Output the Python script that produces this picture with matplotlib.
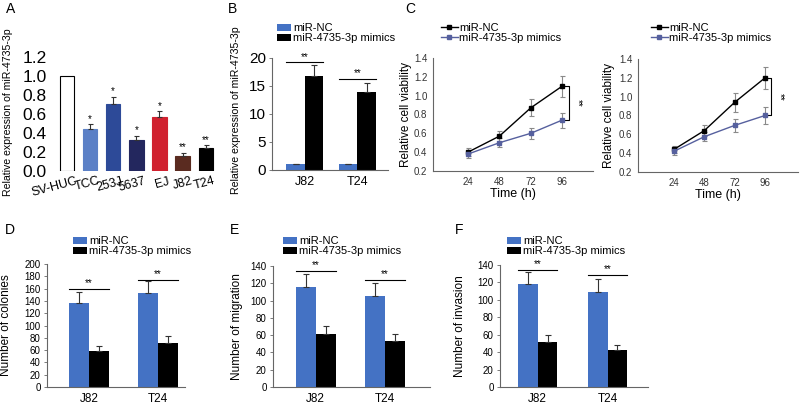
import matplotlib
matplotlib.use("Agg")
import matplotlib.pyplot as plt
from matplotlib.patches import Patch
from matplotlib.lines import Line2D
import numpy as np

plt.rcParams['font.family'] = ['Liberation Sans', 'DejaVu Sans']

# ---------------- data ----------------
a_cells = ["SV-HUC", "TCC", "253J", "5637", "EJ", "J82", "T24"]
a_vals = [1.0, 0.44, 0.70, 0.33, 0.57, 0.16, 0.24]
a_err = [0.0, 0.05, 0.08, 0.04, 0.06, 0.03, 0.03]
a_sig = ["", "*", "*", "*", "*", "**", "**"]
a_colors = ["white", "#5B80C6", "#2D4A98", "#23275E", "#D0212F", "#5A2B20", "#000000"]

groups = ["J82", "T24"]
series = ["miR-NC", "miR-4735-3p mimics"]

b_nc = [1.0, 1.0]
b_nc_err = [0.0, 0.0]
b_mim = [16.7, 14.0]
b_mim_err = [2.1, 1.6]
b_sig_y = [19.2, 16.3]

hours = [24, 48, 72, 96]
c1_nc = [0.40, 0.57, 0.87, 1.10]
c1_nc_err = [0.04, 0.06, 0.09, 0.11]
c1_mim = [0.38, 0.50, 0.60, 0.74]
c1_mim_err = [0.04, 0.05, 0.06, 0.08]
c2_nc = [0.44, 0.64, 0.94, 1.20]
c2_nc_err = [0.04, 0.06, 0.10, 0.12]
c2_mim = [0.42, 0.575, 0.695, 0.80]
c2_mim_err = [0.04, 0.05, 0.07, 0.09]

d_nc = [136, 153]
d_nc_err = [19, 20]
d_mim = [58, 72]
d_mim_err = [9, 11]
d_sig_y = [159, 174]

e_nc = [116, 105]
e_nc_err = [15, 15]
e_mim = [61, 53]
e_mim_err = [10, 8]
e_sig_y = [134, 124]

f_nc = [118, 109]
f_nc_err = [14, 14.5]
f_mim = [52, 42]
f_mim_err = [8, 6.5]
f_sig_y = [134, 128.5]

BLUE = "#4472C4"
W, H = 800, 404

fig = plt.figure(figsize=(8, 4.04), dpi=100)


def add_ax(l, t, r, b):
    return fig.add_axes([l / W, 1 - b / H, (r - l) / W, (b - t) / H])


def style_ax(ax):
    for s in ["top", "right"]:
        ax.spines[s].set_visible(False)
    for s in ["left", "bottom"]:
        ax.spines[s].set_color("#666666")
        ax.spines[s].set_linewidth(0.8)


def letter(x, y, s):
    fig.text(x / W, 1 - y / H, s, fontsize=10, ha="left", va="center")


def bar_legend(x, y):
    handles = [Patch(facecolor=BLUE, edgecolor="none"), Patch(facecolor="black", edgecolor="none")]
    fig.legend(handles, series, loc="upper left", bbox_to_anchor=(x / W, 1 - y / H),
               bbox_transform=fig.transFigure, frameon=False, borderpad=0, borderaxespad=0,
               handlelength=1.3, handleheight=0.6, handletextpad=0.15, labelspacing=0.0,
               fontsize=8)


def line_legend(x, y, mcol):
    handles = [Line2D([0], [0], color="black", marker="s", markersize=2.5, lw=1),
               Line2D([0], [0], color=mcol, marker="s", markersize=2.5, lw=1)]
    fig.legend(handles, series, loc="upper left", bbox_to_anchor=(x / W, 1 - y / H),
               bbox_transform=fig.transFigure, frameon=False, borderpad=0, borderaxespad=0,
               handlelength=1.5, handletextpad=0.15, labelspacing=0.0, fontsize=8)


def grouped_bars(ax, nc, nce, mim, mime, sig_y, w, ylim, yticks, tick_fs, ylabel, ylab_x, ylab_fs):
    x = np.arange(len(groups))
    ax.bar(x - w / 2, nc, w, color=BLUE, zorder=2)
    ax.bar(x + w / 2, mim, w, color="black", zorder=2)
    ax.errorbar(x - w / 2, nc, yerr=[np.zeros(len(nc)), nce], fmt="none", ecolor="#333333",
                elinewidth=0.8, capsize=2, capthick=0.8, zorder=3)
    ax.errorbar(x + w / 2, mim, yerr=[np.zeros(len(mim)), mime], fmt="none", ecolor="#333333",
                elinewidth=0.8, capsize=2, capthick=0.8, zorder=3)
    for xi, sy in zip(x, sig_y):
        ax.plot([xi - w, xi + w], [sy, sy], color="black", lw=0.8, clip_on=False)
        ax.annotate("**", (xi, sy), xytext=(0, 0.5), textcoords="offset points",
                    ha="center", va="bottom", fontsize=7)
    ax.set_ylim(*ylim)
    ax.set_yticks(yticks)
    ax.set_xticks(x)
    ax.set_xticklabels(groups, fontsize=8.5)
    ax.tick_params(axis="x", length=0, pad=4)
    ax.tick_params(axis="y", labelsize=tick_fs, length=2.5, width=0.6, color="#666666", pad=2)
    ax.set_ylabel(ylabel, fontsize=ylab_fs)
    ax.yaxis.set_label_coords(ylab_x, 0.5)
    style_ax(ax)


# ---------------- A ----------------
axA = add_ax(52, 57, 220, 171)
xa = np.arange(len(a_cells))
axA.bar(xa, a_vals, 0.62, color=a_colors, edgecolor=["black"] + a_colors[1:], linewidth=0.8)
axA.errorbar(xa[1:], a_vals[1:], yerr=[np.zeros(len(xa) - 1), a_err[1:]], fmt="none",
             ecolor="#333333", elinewidth=0.8, capsize=1.8, capthick=0.8)
for xi, v, e, s in zip(xa, a_vals, a_err, a_sig):
    if s:
        axA.text(xi, v + e + 0.005, s, ha="center", va="bottom", fontsize=7)
axA.set_xlim(-0.65, 6.62)
axA.set_ylim(0, 1.2)
axA.set_yticks(np.arange(0, 1.21, 0.2))
axA.set_yticklabels([f"{t:.1f}" for t in np.arange(0, 1.21, 0.2)])
axA.tick_params(axis="y", labelsize=12.5, length=0, pad=4)
axA.set_xticks(xa + 0.35)
axA.set_xticklabels(a_cells, rotation=15, ha="right", va="top", rotation_mode="anchor", fontsize=9)
axA.tick_params(axis="x", length=0, pad=3)
for sp in axA.spines.values():
    sp.set_visible(False)
axA.set_ylabel("Relative expression of miR-4735-3p", fontsize=7.6)
axA.yaxis.set_label_coords(-0.235, 0.52)
letter(6, 9, "A")

# ---------------- B ----------------
axB = add_ax(272, 58, 388, 170)
grouped_bars(axB, b_nc, b_nc_err, b_mim, b_mim_err, b_sig_y, 0.354, (0, 20),
             [0, 5, 10, 15, 20], 11, "Relative expression of miR-4735-3p", -0.26, 7.6)
axB.yaxis.set_label_coords(-0.265, 0.53)
axB.set_xlim(-0.63, 1.587)
axB.tick_params(axis="x", labelsize=9)
bar_legend(277, 23)
letter(228, 9, "B")

# ---------------- C ----------------
MIMC = "#56609E"


def viability(ax, nc, nce, mim, mime, xl, ylab_x):
    ax.errorbar(hours, nc, yerr=nce, color="black", ecolor="#8a8a8a", elinewidth=0.8,
                capsize=1.8, capthick=0.8, marker="s", markersize=2.5, lw=1, zorder=3)
    ax.errorbar(hours, mim, yerr=mime, color=MIMC, ecolor="#8a8a8a", elinewidth=0.8,
                capsize=1.8, capthick=0.8, marker="s", markersize=2.5, lw=1, zorder=3)
    bx = hours[-1] + 5
    ax.plot([hours[-1], bx, bx, hours[-1]], [nc[-1], nc[-1], mim[-1], mim[-1]],
            color="black", lw=0.8, clip_on=False)
    ax.text(bx + 3, (nc[-1] + mim[-1]) / 2, "**", rotation=-90, ha="left", va="center",
            fontsize=7)
    ax.set_xlim(*xl)
    ax.set_ylim(0.2, 1.4)
    ax.set_yticks(np.arange(0.2, 1.41, 0.2))
    ax.set_yticklabels([f"{t:.1f}" for t in np.arange(0.2, 1.41, 0.2)])
    ax.set_xticks(hours)
    ax.tick_params(axis="both", labelsize=7, length=0, pad=4, labelcolor="#333333")
    ax.set_xlabel("Time (h)", fontsize=9, labelpad=1)
    ax.set_ylabel("Relative cell viability", fontsize=8.5)
    ax.yaxis.set_label_coords(ylab_x, 0.5)
    style_ax(ax)


axC1 = add_ax(433, 58, 593, 171)
viability(axC1, c1_nc, c1_nc_err, c1_mim, c1_mim_err, (-2.8, 119.7), -0.13)
axC2 = add_ax(638, 59, 798, 172)
viability(axC2, c2_nc, c2_nc_err, c2_mim, c2_mim_err, (-4.5, 122.1), -0.145)
line_legend(441, 23, MIMC)
line_legend(651, 23, MIMC)
letter(405, 9, "C")

# ---------------- D ----------------
axD = add_ax(47, 264, 185, 387)
grouped_bars(axD, d_nc, d_nc_err, d_mim, d_mim_err, d_sig_y, 0.29, (0, 200),
             np.arange(0, 201, 20), 7, "Number of colonies", -0.25, 8.5)
axD.set_xlim(-0.609, 1.39)
bar_legend(73, 236)
letter(5, 230, "D")

# ---------------- E ----------------
axE = add_ax(273, 266, 430, 387)
grouped_bars(axE, e_nc, e_nc_err, e_mim, e_mim_err, e_sig_y, 0.29, (0, 140),
             np.arange(0, 141, 20), 7, "Number of migration", -0.19, 8.5)
axE.set_xlim(-0.616, 1.65)
bar_legend(283, 236)
letter(230, 230, "E")

# ---------------- F ----------------
axF = add_ax(500, 265, 648, 387)
grouped_bars(axF, f_nc, f_nc_err, f_mim, f_mim_err, f_sig_y, 0.28, (0, 140),
             np.arange(0, 141, 20), 7, "Number of invasion", -0.23, 8.5)
axF.set_xlim(-0.539, 1.576)
bar_legend(507, 236)
letter(455, 230, "F")

fig.savefig("out.png", dpi=100)
